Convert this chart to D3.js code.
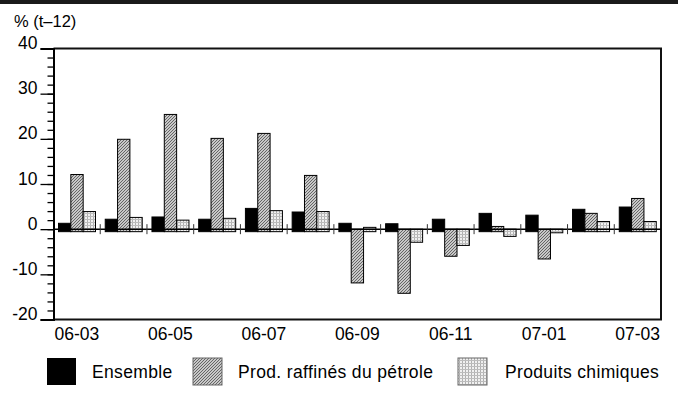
<!DOCTYPE html>
<html>
<head>
<meta charset="utf-8">
<script src="https://cdn.jsdelivr.net/npm/d3@7"></script>
<style>
  body { margin: 0; background: #fff; }
  svg { display: block; font-family: "Liberation Sans", Arial, sans-serif; }
</style>
</head>
<body>
<svg id="chart" width="678" height="400"></svg>
<script>
const months = ["06-03","06-04","06-05","06-06","06-07","06-08","06-09","06-10","06-11","06-12","07-01","07-02","07-03"];
const tickLabels = ["06-03","06-05","06-07","06-09","06-11","07-01","07-03"];
const seriesNames = ["Ensemble", "Prod. raffinés du pétrole", "Produits chimiques"];
const ensemble = [1.3, 2.2, 2.7, 2.2, 4.6, 3.8, 1.3, 1.2, 2.2, 3.5, 3.1, 4.4, 4.9];
const petrole  = [12.1, 19.9, 25.4, 20.1, 21.2, 11.9, -11.9, -14.2, -6.0, 0.6, -6.6, 3.5, 6.8];
const chimie   = [3.9, 2.6, 2.0, 2.4, 4.1, 3.9, 0.4, -2.9, -3.6, -1.6, -0.8, 1.7, 1.7];
const yMajor = [-20, -10, 0, 10, 20, 30, 40];
const yMinor = d3.range(-20, 41, 2);

(function () {
const seriesValues = [ensemble, petrole, chimie];
const fills = ["#000", "url(#hatch)", "url(#check)"];
const FONT = "Liberation Sans, Arial, sans-serif";

const svg = d3.select("#chart");
const defs = svg.append("defs");

// hatched pattern
const ph = defs.append("pattern").attr("id", "hatch").attr("patternUnits", "userSpaceOnUse")
  .attr("width", 3).attr("height", 3);
ph.append("rect").attr("width", 3).attr("height", 3).attr("fill", "#c8c8c8");
ph.append("path").attr("d", "M0,3 L3,0 M-1,1 L1,-1 M2,4 L4,2")
  .attr("stroke", "#5a5a5a").attr("stroke-width", 0.9);

// checkered pattern
const pc = defs.append("pattern").attr("id", "check").attr("patternUnits", "userSpaceOnUse")
  .attr("width", 3).attr("height", 3);
pc.append("rect").attr("width", 3).attr("height", 3).attr("fill", "#f0f0f0");
pc.append("rect").attr("x", 0).attr("y", 0).attr("width", 1).attr("height", 3).attr("fill", "#b0b0b0");
pc.append("rect").attr("x", 0).attr("y", 0).attr("width", 3).attr("height", 1).attr("fill", "#bcbcbc");

// top band
svg.append("rect").attr("x", 0).attr("y", 0).attr("width", 678).attr("height", 4).attr("fill", "#1a1a1a");

const pL = 53.5, pR = 661, pT = 48.5, pB = 319.5;

const x0 = d3.scaleBand().domain(months).range([pL, pR]).padding(0);
const x1 = d3.scaleBand().domain(seriesNames).range([5, 42]).padding(0);
const y = d3.scaleLinear().domain([-20, 40]).range([pB, pT]);

// bars
const g = svg.append("g");
months.forEach((m, i) => {
  seriesNames.forEach((s, k) => {
    const v = seriesValues[k][i];
    const y0 = y(0), yv = y(v);
    const ext = v >= 0 ? 2.5 : 0;
    g.append("rect")
      .attr("x", x0(m) + x1(s))
      .attr("y", Math.min(y0, yv))
      .attr("width", x1.bandwidth())
      .attr("height", Math.abs(yv - y0) + ext)
      .attr("fill", fills[k])
      .attr("stroke", "#000")
      .attr("stroke-width", 1);
  });
});

// frame
svg.append("path")
  .attr("d", `M${pL},${pT} H${pR} V${pB} H${pL}`)
  .attr("fill", "none").attr("stroke", "#111").attr("stroke-width", 2);

// zero line
svg.append("line").attr("x1", pL).attr("x2", pR).attr("y1", y(0)).attr("y2", y(0))
  .attr("stroke", "#000").attr("stroke-width", 1.5);

// group ticks on zero line
svg.append("g").selectAll("line").data(months.slice(1)).join("line")
  .attr("x1", d => x0(d)).attr("x2", d => x0(d))
  .attr("y1", y(0) - 5).attr("y2", y(0) + 5)
  .attr("stroke", "#333").attr("stroke-width", 1);

// y axis minor ticks
const yMinorAxis = d3.axisLeft(y).tickValues(yMinor).tickSize(6).tickFormat("");
svg.append("g").attr("transform", `translate(${pL},0)`).call(yMinorAxis)
  .call(a => a.select(".domain").remove())
  .selectAll("line").attr("stroke", "#000").attr("stroke-width", 1.3);

// y axis major ticks + labels
const yAxis = d3.axisLeft(y).tickValues(yMajor).tickSize(13).tickPadding(3).tickFormat(d => String(d));
const ya = svg.append("g").attr("transform", `translate(${pL},0)`).call(yAxis);
ya.select(".domain").attr("stroke", "#000").attr("stroke-width", 2);
ya.selectAll("line").attr("stroke", "#000").attr("stroke-width", 1.3);
ya.selectAll("text").attr("dy", "0").attr("font-size", 17.5).attr("fill", "#000")
  .attr("font-family", FONT);

// x axis labels
const xAxis = d3.axisBottom(x0).tickValues(tickLabels).tickSize(0).tickPadding(8);
const xa = svg.append("g").attr("transform", `translate(0,${pB})`).call(xAxis);
xa.select(".domain").remove();
xa.selectAll("text").attr("font-size", 17.5).attr("fill", "#000")
  .attr("font-family", FONT);

// unit label
svg.append("text").attr("x", 14).attr("y", 27).attr("font-size", 16.5).attr("font-family", FONT).text("% (t–12)");

// legend
const legendItems = [
  {name: seriesNames[0], fill: fills[0], bx: 47, tx: 92},
  {name: seriesNames[1], fill: fills[1], bx: 193, tx: 238},
  {name: seriesNames[2], fill: fills[2], bx: 458, tx: 505}
];
const lg = svg.append("g");
legendItems.forEach(it => {
  lg.append("rect").attr("x", it.bx).attr("y", 358).attr("width", 29).attr("height", 27)
    .attr("fill", it.fill).attr("stroke", it.fill === "#000" ? "none" : "#666").attr("stroke-width", 1);
  lg.append("text").attr("x", it.tx).attr("y", 378).attr("font-size", 17.5)
    .attr("letter-spacing", 0.35).attr("font-family", FONT).text(it.name);
});
})();
</script>
</body>
</html>
